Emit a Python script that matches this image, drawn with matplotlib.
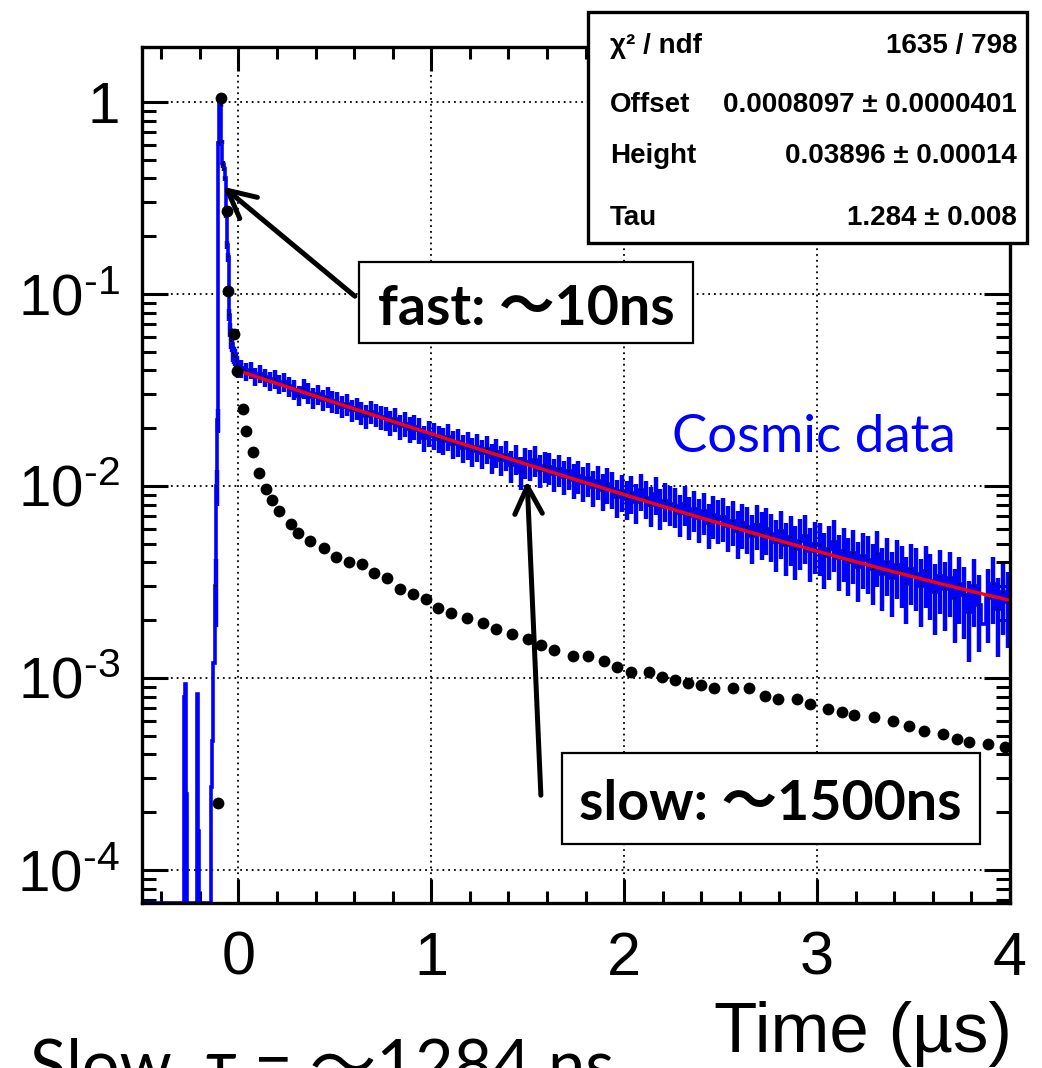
import numpy as np
import matplotlib
matplotlib.use("Agg")
import matplotlib.pyplot as plt
from matplotlib.patches import Rectangle, FancyArrowPatch
from matplotlib.ticker import FixedLocator, MultipleLocator, LogLocator, NullFormatter

plt.rcParams['font.family'] = ['Liberation Sans', 'DejaVu Sans']
plt.rcParams['mathtext.fontset'] = 'custom'
plt.rcParams['mathtext.rm'] = 'Liberation Sans'
plt.rcParams['mathtext.it'] = 'Liberation Sans:italic'
plt.rcParams['mathtext.bf'] = 'Liberation Sans:bold'

# ---------------- data ----------------
# early part of the histogram (variable bin edges, x < 0), values per bin
early_edges = [-0.5, -0.280, -0.275, -0.270, -0.265, -0.215, -0.210, -0.205,
               -0.140, -0.135, -0.130, -0.125, -0.120, -0.115, -0.110, -0.105,
               -0.100, -0.095, -0.090, -0.085, -0.080, -0.075, -0.070, -0.065,
               -0.060, -0.055, -0.050, -0.045, -0.040, -0.035, -0.030, -0.025,
               -0.020, -0.015, -0.010, -0.005, 0.0]
early_vals = [0.0, 0.00080, 0.00093, 0.00025, 0.0, 0.00083, 0.00016, 0.0,
              0.00027, 0.00047, 0.0012, 0.0012, 0.0030, 0.010, 0.022, 0.61,
              1.02, 0.96, 0.62, 0.48, 0.47, 0.45, 0.40, 0.26,
              0.18, 0.155, 0.078, 0.065, 0.057, 0.055, 0.049, 0.048,
              0.047, 0.045, 0.043, 0.041]

# main part of the histogram, 0 .. 4 us, bin width 0.025 us
main_start = 0.0
main_stop = 4.0
main_vals = [
    0.0410, 0.0395, 0.0402, 0.0372, 0.0385, 0.0368, 0.0352, 0.0361, 0.0339, 0.0348,
    0.0330, 0.0318, 0.0296, 0.0322, 0.0305, 0.0289, 0.0300, 0.0281, 0.0290, 0.0276,
    0.0272, 0.0259, 0.0266, 0.0248, 0.0255, 0.0240, 0.0231, 0.0244, 0.0236, 0.0228,
    0.0225, 0.0214, 0.0222, 0.0205, 0.0211, 0.0198, 0.0204, 0.0196, 0.0178, 0.0188,
    0.0183, 0.0176, 0.0172, 0.0181, 0.0165, 0.0170, 0.0158, 0.0163, 0.0152, 0.0160,
    0.0148, 0.0156, 0.0141, 0.0150, 0.0137, 0.0145, 0.0128, 0.0139, 0.0118, 0.0133,
    0.0130, 0.0136, 0.0121, 0.0127, 0.0125, 0.0116, 0.0122, 0.0112, 0.0119, 0.0108,
    0.0113, 0.0104, 0.0110, 0.0099, 0.0106, 0.0095, 0.0102, 0.0097, 0.0088, 0.0094,
    0.0086, 0.0092, 0.0083, 0.0095, 0.0087, 0.0080, 0.0091, 0.0078, 0.0084, 0.0081,
    0.0079, 0.0072, 0.0081, 0.0070, 0.0076, 0.0068, 0.0074, 0.0064, 0.0071, 0.0067,
    0.0069, 0.0062, 0.0066, 0.0058, 0.0064, 0.0061, 0.0055, 0.0063, 0.0057, 0.0060,
    0.0056, 0.0051, 0.0058, 0.0049, 0.0054, 0.0047, 0.0052, 0.0055, 0.0046, 0.0050,
    0.0049, 0.0043, 0.0047, 0.0051, 0.0042, 0.0046, 0.0040, 0.0045, 0.0038, 0.0043,
    0.0041, 0.0037, 0.0044, 0.0035, 0.0040, 0.0033, 0.0039, 0.0036, 0.0031, 0.0037,
    0.0035, 0.0030, 0.0036, 0.0032, 0.0028, 0.0034, 0.0029, 0.0033, 0.0026, 0.0031,
    0.0027, 0.0022, 0.0030, 0.0024, 0.0019, 0.0026, 0.0031, 0.0023, 0.0028, 0.0025,
]
count_norm = 4.5e-4   # value of one count (for Poisson error bars)
errbar_min = 0.002    # bins below this (single counts) drawn without error bars

# reference waveform (black dots)
dot_t = [-0.104, -0.088, -0.057, -0.052, -0.021, -0.005, 0.026, 0.041, 0.078, 0.109,
         0.145, 0.176, 0.212, 0.275, 0.311, 0.373, 0.446, 0.508, 0.575, 0.642,
         0.705, 0.772, 0.839, 0.907, 0.974, 1.036, 1.104, 1.187, 1.269, 1.337,
         1.420, 1.503, 1.570, 1.637, 1.736, 1.813, 1.896, 1.964, 2.036, 2.130,
         2.197, 2.264, 2.332, 2.399, 2.466, 2.565, 2.648, 2.731, 2.798, 2.896,
         2.964, 3.057, 3.130, 3.192, 3.295, 3.394, 3.477, 3.554, 3.653, 3.725,
         3.788, 3.886, 3.974]
dot_v = [2.23e-4, 1.05, 0.271, 0.104, 0.0619, 0.0397, 0.0252, 0.0193, 0.0150, 0.0117,
         0.00965, 0.00845, 0.00741, 0.00634, 0.00569, 0.00517, 0.00475, 0.00427, 0.00402, 0.00392,
         0.00352, 0.00332, 0.00291, 0.00274, 0.00258, 0.00232, 0.00218, 0.00205, 0.00193, 0.00180,
         0.00170, 0.00160, 0.00149, 0.00140, 0.00130, 0.00130, 0.00123, 0.00114, 0.00107, 0.00107,
         0.00101, 0.000977, 0.000942, 0.000920, 0.000887, 0.000887, 0.000887, 0.000805, 0.000778, 0.000778,
         0.000733, 0.000690, 0.000666, 0.000642, 0.000626, 0.000597, 0.000562, 0.000530, 0.000511, 0.000481,
         0.000464, 0.000453, 0.000437]

# fit parameters (stat box)
fit_offset = 0.0008097
fit_height = 0.03896
fit_tau = 1.284
fit_range = (0.0, 4.0)

stat_labels = ["χ² / ndf", "Offset", "Height", "Tau"]
stat_values = ["1635 / 798", "0.0008097 ± 0.0000401", "0.03896 ± 0.00014", "1.284 ± 0.008"]

x_ticks = [0, 1, 2, 3, 4]
x_ticklabels = ["0", "1", "2", "3", "4"]
y_ticks = [1.0, 1e-1, 1e-2, 1e-3, 1e-4]
y_ticklabels = ["1", r"$\mathdefault{10^{\text{-}1}}$", r"$\mathdefault{10^{\text{-}2}}$",
                r"$\mathdefault{10^{\text{-}3}}$", r"$\mathdefault{10^{\text{-}4}}$"]
xlim = (-0.5, 4.0)
ylim = (6.73e-5, 1.934)

# ---------------- figure ----------------
W, H = 1042, 1068
fig = plt.figure(figsize=(W / 100, H / 100), dpi=100)

def fx(px):
    return px / W

def fy(py):
    return 1 - py / H

ax = fig.add_axes([fx(142), fy(903), fx(1010) - fx(142), fy(47) - fy(903)])
ax.set_yscale('log')
ax.set_xlim(*xlim)
ax.set_ylim(*ylim)

# histogram
main_edges = np.linspace(main_start, main_stop, len(main_vals) + 1)
edges = np.concatenate([np.array(early_edges), main_edges[1:]])
vals = np.concatenate([np.array(early_vals), np.array(main_vals)])
floor = ylim[0]
vals_draw = np.maximum(vals, floor)
ax.stairs(vals_draw, edges, color='#0000ff', lw=2.6, zorder=3, baseline=None)
centers = 0.5 * (edges[:-1] + edges[1:])
mask = vals >= errbar_min
err = np.sqrt(vals[mask] * count_norm)
lo = np.minimum(err, vals[mask] - floor * 1.0001)
ax.errorbar(centers[mask], vals[mask], yerr=[lo, err], fmt='none',
            ecolor='#0000ff', elinewidth=3.2, capsize=0, zorder=3)
ax.plot(centers[mask], vals[mask], 's', color='black', ms=1.8, mew=0, zorder=4)

# fit curve
tf = np.linspace(fit_range[0], fit_range[1], 400)
ax.plot(tf, fit_offset + fit_height * np.exp(-tf / fit_tau), color='#ff0000', lw=2.4, zorder=5)

# black dots
ax.plot(dot_t, dot_v, 'o', color='black', ms=8.5, mew=0, zorder=6)

# axes styling
ax.xaxis.set_major_locator(FixedLocator(x_ticks))
ax.set_xticklabels(x_ticklabels)
ax.xaxis.set_minor_locator(MultipleLocator(0.2))
ax.yaxis.set_major_locator(FixedLocator(y_ticks))
ax.set_yticklabels(y_ticklabels)
ax.yaxis.set_minor_locator(LogLocator(base=10, subs=np.arange(2, 10), numticks=20))
ax.yaxis.set_minor_formatter(NullFormatter())
ax.tick_params(which='both', direction='in', top=True, right=True, width=2.2, color='black')
ax.tick_params(axis='x', which='major', length=17, labelsize=44, pad=20)
ax.tick_params(axis='x', which='minor', length=8.5)
ax.tick_params(axis='y', which='major', length=18.5, labelsize=42, pad=16)
ax.tick_params(axis='y', which='minor', length=10)
for s in ax.spines.values():
    s.set_linewidth(2.4)
    s.set_zorder(7)
ax.grid(True, which='major', color='black', lw=1.3, linestyle=(0, (1, 2.2)))
ax.set_axisbelow(True)

# x axis title
fig.text(fx(1012), fy(1052), "Time (µs)", ha='right', va='baseline', fontsize=51)

# stat box
fig.add_artist(Rectangle((fx(588), fy(243)), fx(1027) - fx(588), fy(12) - fy(243),
                         transform=fig.transFigure, facecolor='white', edgecolor='black',
                         lw=2.4, zorder=10))
row_base = [53, 112, 163, 225]
for lab, val, yb in zip(stat_labels, stat_values, row_base):
    fig.text(fx(610), fy(yb), lab, ha='left', va='baseline', fontsize=20,
             fontweight='bold', zorder=11)
    fig.text(fx(1017), fy(yb), val, ha='right', va='baseline', fontsize=20,
             fontweight='bold', zorder=11)

# annotation boxes
lato = ['Lato', 'Noto Sans CJK JP', 'DejaVu Sans']
fig.add_artist(Rectangle((fx(359), fy(343)), fx(693) - fx(359), fy(262) - fy(343),
                         transform=fig.transFigure, facecolor='white', edgecolor='black',
                         lw=1.6, zorder=10))
fig.text(fx(526), fy(325), "fast: ～10ns", ha='center', va='baseline', fontsize=40,
         fontweight='bold', family=lato, zorder=11)
fig.add_artist(Rectangle((fx(562), fy(844)), fx(980) - fx(562), fy(753) - fy(844),
                         transform=fig.transFigure, facecolor='white', edgecolor='black',
                         lw=1.6, zorder=10))
fig.text(fx(770), fy(820), "slow: ～1500ns", ha='center', va='baseline', fontsize=40,
         fontweight='bold', family=lato, zorder=11)

fig.text(fx(672), fy(452), "Cosmic data", ha='left', va='baseline', fontsize=38,
         color='#0000ff', family=lato, zorder=11)

# arrows
for tail, tip in [((357, 298), (221, 185)), ((541, 798), (527, 478))]:
    fig.add_artist(FancyArrowPatch((fx(tail[0]), fy(tail[1])), (fx(tip[0]), fy(tip[1])),
                                   transform=fig.transFigure,
                                   arrowstyle='->,head_length=0.9,head_width=0.45',
                                   mutation_scale=22, lw=3.6, color='black', zorder=9))

# bottom (cut-off) text
fig.text(fx(30), fy(1087), "Slow  τ = ～1284 ns", ha='left', va='baseline', fontsize=48,
         family=lato, zorder=11)

fig.savefig("out.png", dpi=100)
